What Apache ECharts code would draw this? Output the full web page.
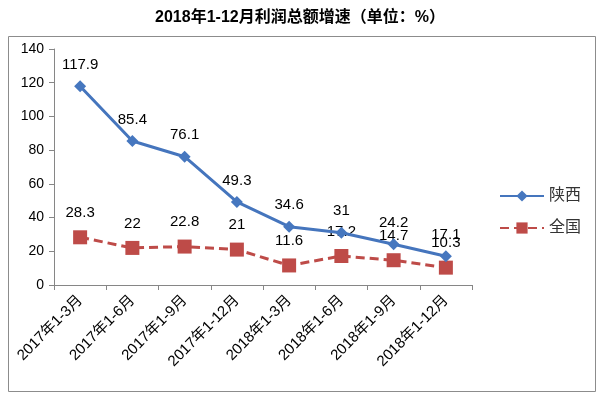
<!DOCTYPE html>
<html><head><meta charset="utf-8">
<script src="https://cdn.jsdelivr.net/npm/echarts@6/dist/echarts.min.js"></script>
<style>html,body{margin:0;padding:0;background:#fff}#c{width:600px;height:394px}</style>
</head><body><div id="c"></div>
<script>
const categories = ['2017年1-3月','2017年1-6月','2017年1-9月','2017年1-12月','2018年1-3月','2018年1-6月','2018年1-9月','2018年1-12月'];
const shaanxi = [117.9, 85.4, 76.1, 49.3, 34.6, 31, 24.2, 17.1];
const national = [28.3, 22, 22.8, 21, 11.6, 17.2, 14.7, 10.3];
const yTicks = [0, 20, 40, 60, 80, 100, 120, 140];
const seriesNames = ['陕西', '全国'];

const font = "'Liberation Sans', 'Noto Sans CJK SC', sans-serif";
const chart = echarts.init(document.getElementById('c'), null, {renderer: 'canvas'});
chart.setOption({
  animation: false,
  backgroundColor: '#fff',
  title: {
    text: '2018年1-12月利润总额增速（单位：%）',
    left: 'center', top: 5,
    textStyle: {fontFamily: font, fontSize: 16, fontWeight: 'bold', color: '#000'}
  },
  graphic: [{
    type: 'rect', left: 6, top: 34,
    shape: {width: 587, height: 355},
    style: {fill: 'none', stroke: '#8c8c8c', lineWidth: 1}
  }],
  legend: {
    orient: 'vertical', left: 494, top: 183,
    itemWidth: 44, itemHeight: 14, itemGap: 16,
    textStyle: {fontFamily: font, fontSize: 16, color: '#333'},
    data: seriesNames
  },
  grid: {left: 54, right: 128, top: 49, bottom: 109},
  xAxis: {
    type: 'category', data: categories, boundaryGap: true,
    axisLine: {lineStyle: {color: '#868686'}},
    axisTick: {show: true, alignWithLabel: false, length: 5, lineStyle: {color: '#868686'}},
    axisLabel: {rotate: 45, fontFamily: font, fontSize: 15, color: '#000', margin: 13, interval: 0}
  },
  yAxis: {
    type: 'value', min: yTicks[0], max: yTicks[yTicks.length - 1], interval: 20,
    axisLine: {show: true, lineStyle: {color: '#868686'}},
    axisTick: {show: true, length: 5, lineStyle: {color: '#868686'}},
    splitLine: {show: false},
    axisLabel: {fontFamily: font, fontSize: 14, color: '#000', margin: 10}
  },
  series: [
    {
      name: seriesNames[0], type: 'line', data: shaanxi,
      symbol: 'diamond', symbolSize: 12,
      lineStyle: {color: '#4575BD', width: 3},
      itemStyle: {color: '#4677BF'},
      label: {show: true, position: 'top', distance: 8, fontFamily: font, fontSize: 15, color: '#000'},
      z: 3
    },
    {
      name: seriesNames[1], type: 'line', data: national,
      symbol: 'rect', symbolSize: 14,
      lineStyle: {color: '#BE4B48', width: 3, type: [9, 5]},
      itemStyle: {color: '#BE4B48'},
      label: {show: true, position: 'top', distance: 10, fontFamily: font, fontSize: 15, color: '#000'},
      z: 2
    }
  ]
});
</script></body></html>
